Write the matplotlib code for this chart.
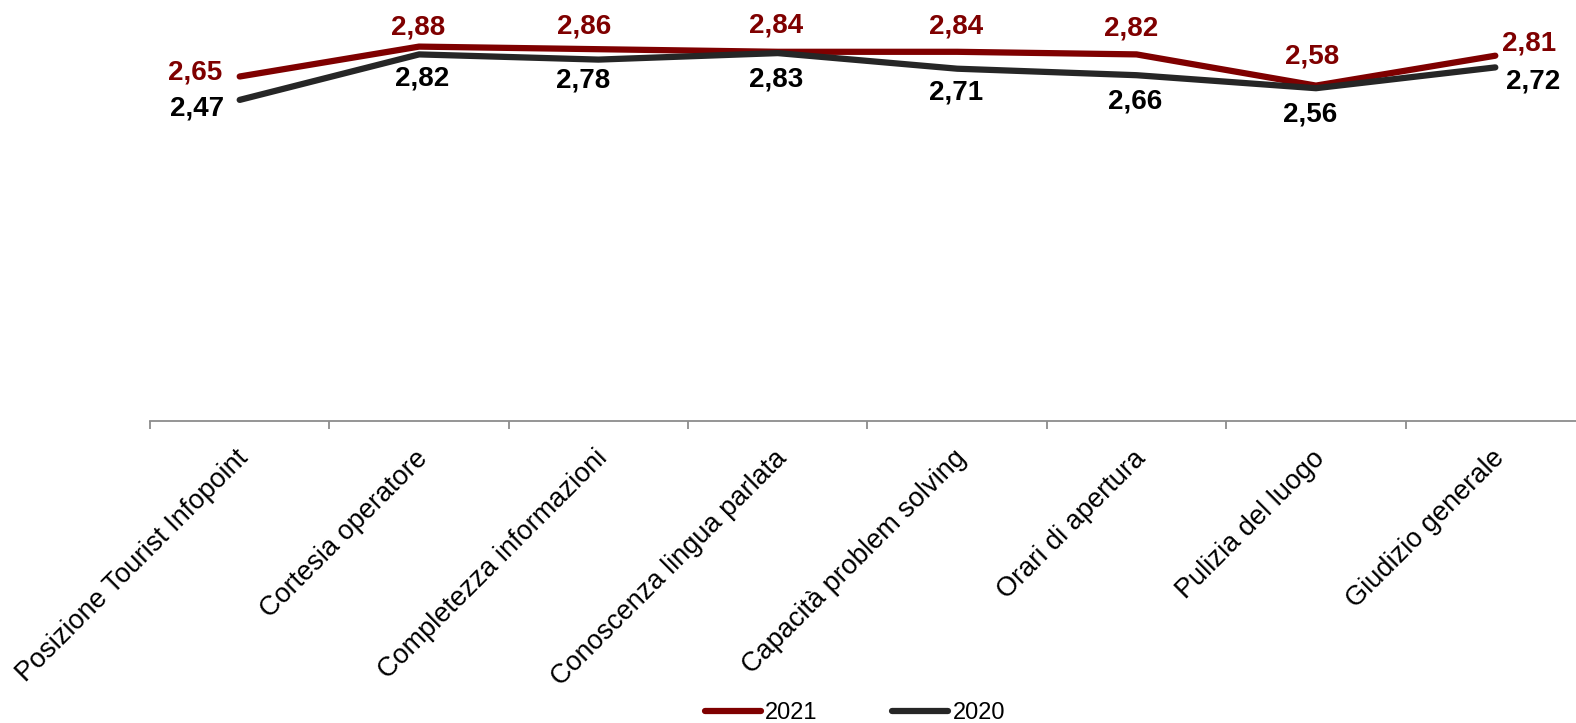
import matplotlib.pyplot as plt
import matplotlib.transforms as mtransforms
import numpy as np

# Customer satisfaction per aspect, 2021 vs 2020
categories = ['Posizione Tourist Infopoint', 'Cortesia operatore',
              'Completezza informazioni', 'Conoscenza lingua parlata',
              'Capacità problem solving', 'Orari di apertura',
              'Pulizia del luogo', 'Giudizio generale']
score_2021 = [2.65, 2.88, 2.86, 2.84, 2.84, 2.82, 2.58, 2.81]
score_2020 = [2.47, 2.82, 2.78, 2.83, 2.71, 2.66, 2.56, 2.72]

red = '#7f0000'
dark = '#262626'

# label offsets in points (dx, dy), a few are nudged by hand
off_2021 = [(-32, 3), (-1, 14), (-10, 16), (-1, 19), (-1, 18), (-4, 19), (-3, 21), (24, 9)]
off_2020 = [(-31, -6), (2, -17), (-11, -15), (-1, -19), (-1, -17), (-1, -19), (-4, -19), (27, -10)]

plt.rcParams['font.family'] = ['Liberation Sans', 'DejaVu Sans']

fig = plt.figure(figsize=(15.76, 7.23), dpi=100)
ax = fig.add_axes([150 / 1576, 302 / 723, 1435 / 1576, 390 / 723])

x = np.arange(len(categories))
ax.plot(x, score_2021, color=red, lw=4.5, solid_capstyle='round', label='2021')
ax.plot(x, score_2020, color=dark, lw=4.5, solid_capstyle='round', label='2020')

for i in range(len(x)):
    ax.annotate(f'{score_2021[i]:.2f}'.replace('.', ','), (x[i], score_2021[i]),
                xytext=off_2021[i], textcoords='offset points', ha='center', va='center',
                fontsize=20, fontweight='bold', color=red)
    ax.annotate(f'{score_2020[i]:.2f}'.replace('.', ','), (x[i], score_2020[i]),
                xytext=off_2020[i], textcoords='offset points', ha='center', va='center',
                fontsize=20, fontweight='bold', color='black')

ax.set_xlim(-0.5, len(categories) - 0.5)
ax.set_ylim(0, 3)

for s in ['top', 'right', 'left']:
    ax.spines[s].set_visible(False)
ax.spines['bottom'].set_color('#8c8c8c')
ax.spines['bottom'].set_linewidth(1.3)
ax.set_yticks([])

ax.set_xticks(x)
ax.set_xticklabels(categories, rotation=45, ha='right', va='center',
                   rotation_mode='anchor', fontsize=19.5)
ax.tick_params(axis='x', which='major', length=0, pad=24)
# nudge the slanted labels a little to the right
shift = mtransforms.ScaledTranslation(5 / 100, 0, fig.dpi_scale_trans)
for lab in ax.get_xticklabels():
    lab.set_transform(lab.get_transform() + shift)
ax.set_xticks(np.arange(-0.5, len(categories)), minor=True)
ax.tick_params(axis='x', which='minor', length=6, width=1.3, color='#8c8c8c')

ax.legend(loc='center', bbox_to_anchor=(855 / 1576, 1 - 713 / 723),
          bbox_transform=fig.transFigure, ncol=2, frameon=False, fontsize=17,
          handlelength=2.35, handletextpad=0.2, columnspacing=3.15)

fig.savefig('out.png', dpi=100)
